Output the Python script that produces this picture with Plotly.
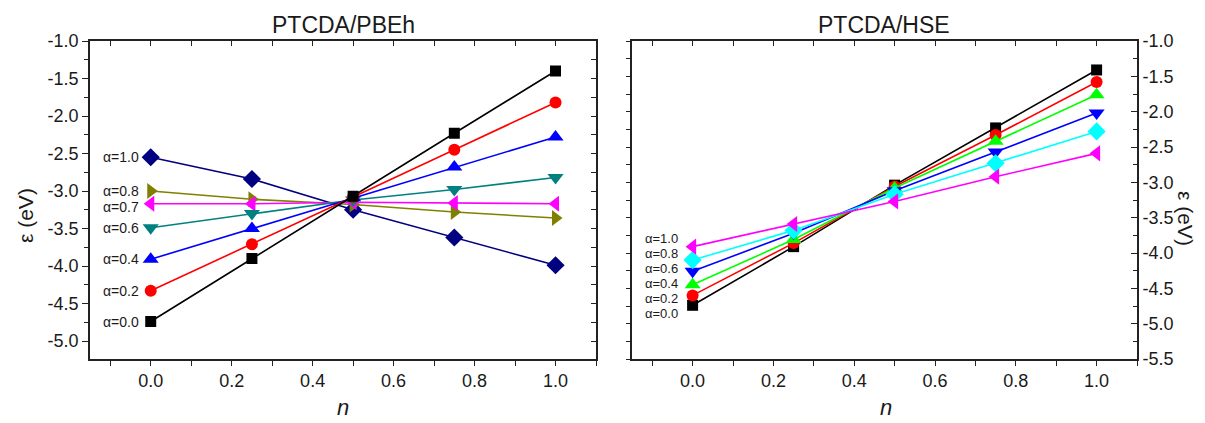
import plotly.graph_objects as go

W, H = 1205, 423

# fractional occupation of the LUMO
n_vals = [0.0, 0.25, 0.5, 0.75, 1.0]

# PTCDA / PBEh : orbital energy (eV) for each mixing fraction alpha
pbeh_alpha = ["1.0", "0.8", "0.7", "0.6", "0.4", "0.2", "0.0"]
pbeh_a10 = [-2.55, -2.84, -3.25, -3.62, -3.99]
pbeh_a08 = [-3.00, -3.11, -3.18, -3.28, -3.36]
pbeh_a07 = [-3.17, -3.17, -3.15, -3.16, -3.17]
pbeh_a06 = [-3.49, -3.30, -3.12, -2.98, -2.82]
pbeh_a04 = [-3.91, -3.50, -3.09, -2.68, -2.28]
pbeh_a02 = [-4.33, -3.71, -3.08, -2.45, -1.82]
pbeh_a00 = [-4.74, -3.90, -3.07, -2.23, -1.40]

# PTCDA / HSE
hse_alpha = ["1.0", "0.8", "0.6", "0.4", "0.2", "0.0"]
hse_a10 = [-3.91, -3.59, -3.27, -2.92, -2.59]
hse_a08 = [-4.10, -3.68, -3.17, -2.73, -2.28]
hse_a06 = [-4.26, -3.72, -3.12, -2.57, -2.02]
hse_a04 = [-4.45, -3.81, -3.08, -2.42, -1.76]
hse_a02 = [-4.60, -3.86, -3.06, -2.33, -1.58]
hse_a00 = [-4.74, -3.91, -3.04, -2.23, -1.41]

# tick labels (plain hyphen minus sign)
x_tickvals = [0.0, 0.2, 0.4, 0.6, 0.8, 1.0]
x_ticktext = ["0.0", "0.2", "0.4", "0.6", "0.8", "1.0"]
y1_tickvals = [-1.0, -1.5, -2.0, -2.5, -3.0, -3.5, -4.0, -4.5, -5.0]
y1_ticktext = ["-1.0", "-1.5", "-2.0", "-2.5", "-3.0", "-3.5", "-4.0", "-4.5", "-5.0"]
y2_tickvals = y1_tickvals + [-5.5]
y2_ticktext = y1_ticktext + ["-5.5"]

pbeh_series = [pbeh_a10, pbeh_a08, pbeh_a07, pbeh_a06, pbeh_a04, pbeh_a02, pbeh_a00]
pbeh_colors = ["#000080", "#808000", "#FF00FF", "#008080", "#0000FF", "#FF0000", "#000000"]
pbeh_symbols = ["diamond", "triangle-right", "triangle-left", "triangle-down",
                "triangle-up", "circle", "square"]

hse_series = [hse_a10, hse_a08, hse_a06, hse_a04, hse_a02, hse_a00]
hse_colors = ["#FF00FF", "#00FFFF", "#0000FF", "#00FF00", "#FF0000", "#000000"]
hse_symbols = ["triangle-left", "diamond", "triangle-down", "triangle-up", "circle", "square"]

# triangles and diamonds render smaller than squares at equal size
SYMBOL_SIZE = {"square": 11, "circle": 12, "diamond": 14}
TRI_SIZE = 14

FONT = "Liberation Sans, Arial, sans-serif"
TXT = "#1a1a1a"


def px_x(p):
    return p / W


def px_y(p):
    return 1 - p / H


def msize(sym):
    return SYMBOL_SIZE.get(sym, TRI_SIZE)


fig = go.Figure()

for ys, c, s in zip(pbeh_series, pbeh_colors, pbeh_symbols):
    fig.add_trace(go.Scatter(
        x=n_vals, y=ys, mode="lines+markers", xaxis="x", yaxis="y",
        line=dict(color=c, width=1.6),
        marker=dict(symbol=s, size=msize(s), color=c, line=dict(width=0)),
        showlegend=False))

for ys, c, s in zip(hse_series[::-1], hse_colors[::-1], hse_symbols[::-1]):
    fig.add_trace(go.Scatter(
        x=n_vals, y=ys, mode="lines+markers", xaxis="x2", yaxis="y2",
        line=dict(color=c, width=1.6),
        marker=dict(symbol=s, size=msize(s), color=c, line=dict(width=0)),
        showlegend=False))

dom_y = [px_y(359), px_y(41)]
dom_x1 = [px_x(90), px_x(596)]
dom_x2 = [px_x(632), px_x(1137)]
xr = [-0.15, 1.1]
yr1 = [-5.24, -1.0]
yr2 = [-5.5, -1.0]

tickfont = dict(family=FONT, size=18, color=TXT)

xbase = dict(range=xr, tickmode="array", tickvals=x_tickvals, ticktext=x_ticktext,
             showgrid=False, zeroline=False, showline=True, linecolor="#222",
             linewidth=1.6, mirror=True, ticks="outside", ticklen=5, tickwidth=1.3,
             tickcolor="#222",
             minor=dict(dtick=0.1, tick0=0, ticks="outside", ticklen=5, tickwidth=1.3,
                        tickcolor="#222", showgrid=False),
             tickfont=tickfont, automargin=False)
ybase = dict(tickmode="array", showgrid=False, zeroline=False,
             showline=True, linecolor="#222", linewidth=1.6, mirror=True,
             ticklen=6, tickwidth=1.3, tickcolor="#222",
             minor=dict(dtick=0.25, tick0=0, ticklen=4, tickwidth=1.3, tickcolor="#222",
                        showgrid=False),
             tickfont=tickfont, automargin=False)

# inward tick marks on the opposite frame sides
xmirror = dict(range=xr, dtick=0.1, tick0=0, showticklabels=False, showgrid=False,
               zeroline=False, showline=False, ticks="inside", ticklen=5,
               tickwidth=1.3, tickcolor="#222", side="top", automargin=False)
ymirror = dict(dtick=0.25, tick0=0, showticklabels=False, showgrid=False,
               zeroline=False, showline=False, tickwidth=1.3, tickcolor="#222",
               automargin=False)

fig.update_layout(
    width=W, height=H,
    margin=dict(l=0, r=0, t=0, b=0, autoexpand=False),
    paper_bgcolor="white", plot_bgcolor="white",
    xaxis=dict(xbase, domain=dom_x1, anchor="y"),
    yaxis=dict(ybase, domain=dom_y, range=yr1, anchor="x", side="left",
               tickvals=y1_tickvals, ticktext=y1_ticktext, ticks="outside",
               minor=dict(ybase["minor"], ticks="outside")),
    xaxis2=dict(xbase, domain=dom_x2, anchor="y2"),
    yaxis2=dict(ybase, domain=dom_y, range=yr2, anchor="x2", side="right",
                tickvals=y2_tickvals, ticktext=y2_ticktext, ticks="inside",
                minor=dict(ybase["minor"], ticks="inside")),
    xaxis3=dict(xmirror, overlaying="x", anchor="y"),
    yaxis3=dict(ymirror, overlaying="y", anchor="x", side="right", range=yr1,
                ticks="inside", ticklen=5),
    xaxis4=dict(xmirror, overlaying="x2", anchor="y2"),
    yaxis4=dict(ymirror, overlaying="y2", anchor="x2", side="left", range=yr2,
                ticks="outside", ticklen=5),
)

# invisible traces so the overlay axes get drawn
fig.add_trace(go.Scatter(x=[None], y=[None], xaxis="x3", yaxis="y3",
                         showlegend=False, hoverinfo="skip"))
fig.add_trace(go.Scatter(x=[None], y=[None], xaxis="x4", yaxis="y4",
                         showlegend=False, hoverinfo="skip"))


def paper_text(text, xp, yp, size, angle=0):
    return dict(text=text, x=px_x(xp), y=px_y(yp), xref="paper", yref="paper",
                xanchor="center", yanchor="middle", textangle=angle,
                showarrow=False, font=dict(family=FONT, size=size, color=TXT))


ann = [
    paper_text("PTCDA/PBEh", 343, 25, 23),
    paper_text("PTCDA/HSE", 884, 25, 23),
    paper_text("<i>n</i>", 343, 407, 22),
    paper_text("<i>n</i>", 886, 407, 22),
    paper_text("ε (eV)", 26, 216, 21, -90),
    paper_text("ε (eV)", 1186, 218, 21, 90),
]

# alpha labels next to the n = 0 points (PBEh)
for a, ys in zip(pbeh_alpha, pbeh_series):
    ann.append(dict(text=f"α={a}", x=0, y=ys[0], xref="x", yref="y", xanchor="right",
                    yanchor="middle", xshift=-10, yshift=(-3 if a == "0.7" else 0),
                    showarrow=False, font=dict(family=FONT, size=14, color=TXT)))
# stacked alpha labels (HSE)
for i, a in enumerate(hse_alpha):
    ann.append(dict(text=f"α={a}", x=0, y=-3.80 - 0.21 * i, xref="x2", yref="y2",
                    xanchor="right", yanchor="middle", xshift=-13, showarrow=False,
                    font=dict(family=FONT, size=13, color=TXT)))

fig.update_layout(annotations=ann)

fig.write_html("out.html")
